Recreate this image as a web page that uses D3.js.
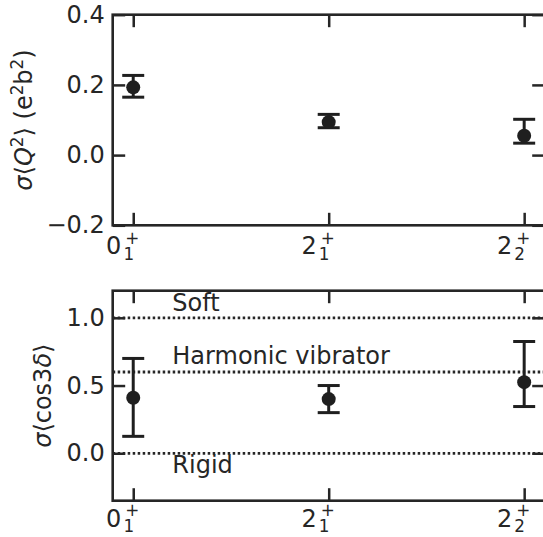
<!DOCTYPE html>
<html>
<head>
<meta charset="utf-8">
<script src="https://cdn.jsdelivr.net/npm/d3@7"></script>
<style>
  html, body { margin: 0; padding: 0; background: #fff; }
  svg { display: block; }
  text { font-family: "DejaVu Sans", sans-serif; fill: #262626; }
</style>
</head>
<body>
<div id="chart"></div>
<script>
// states on the x axis: J, index, parity  ->  J_index^parity
const stateSpin   = ["0", "2", "2"];
const stateIndex  = ["1", "1", "2"];
const stateParity = ["+", "+", "+"];

// sigma <Q^2> (e^2 b^2)
const q2Value = [0.193, 0.094, 0.055];
const q2Low   = [0.165, 0.078, 0.034];
const q2High  = [0.227, 0.116, 0.102];
const q2Ticks = [-0.2, 0.0, 0.2, 0.4];

// sigma <cos 3 delta>
const cosValue = [0.41, 0.40, 0.525];
const cosLow   = [0.125, 0.30, 0.345];
const cosHigh  = [0.70, 0.50, 0.825];
const cosTicks = [0.0, 0.5, 1.0];

// reference lines
const refValue = [1.0, 0.6, 0.0];
const refLabel = ["Soft", "Harmonic vibrator", "Rigid"];

const W = 543, H = 537;
const ink = "#262626";
const fs = 24;

const svg = d3.select("#chart").append("svg")
  .attr("width", W)
  .attr("height", H);

const x = d3.scaleLinear().domain([-0.105, 2.105]).range([112.7, 544.7]);
const xIdx = stateSpin.map((d, i) => i);

function panel(opts){
  const y = d3.scaleLinear().domain(opts.domain).range([opts.bottom, opts.top]);
  const g = svg.append("g");

  // reference lines sit under everything else
  if(opts.refs){
    opts.refs.forEach((r, i) => {
      g.append("line")
        .attr("x1", x.range()[0]).attr("x2", x.range()[1])
        .attr("y1", y(r)).attr("y2", y(r))
        .attr("stroke", ink)
        .attr("stroke-width", 2.8)
        .attr("stroke-dasharray", "2.5,2.5");
      g.append("text")
        .attr("x", x(0.2))
        .attr("y", y(r) + opts.refOffsets[i])
        .style("font-size", fs + "px")
        .text(opts.refLabels[i]);
    });
  }

  // axes: ticks inward on every side
  const left = d3.axisLeft(y).tickValues(opts.ticks).tickSizeInner(-12.5).tickSizeOuter(0)
    .tickPadding(8).tickFormat(d => d3.format(".1f")(d).replace("-", "\u2212"));
  const right = d3.axisRight(y).tickValues(opts.ticks).tickSizeInner(-12.5).tickSizeOuter(0).tickFormat("");
  const bottom = d3.axisBottom(x).tickValues(xIdx).tickSizeInner(-12.5).tickSizeOuter(0).tickFormat("");
  const top = d3.axisTop(x).tickValues(xIdx).tickSizeInner(-12.5).tickSizeOuter(0).tickFormat("");

  const gl = g.append("g").attr("transform", "translate(" + x.range()[0] + ",0)").call(left);
  g.append("g").attr("transform", "translate(" + x.range()[1] + ",0)").call(right);
  const gb = g.append("g").attr("transform", "translate(0," + opts.bottom + ")").call(bottom);
  g.append("g").attr("transform", "translate(0," + opts.top + ")").call(top);

  g.selectAll(".domain").remove();
  g.selectAll(".tick line").attr("stroke", ink).attr("stroke-width", 2.5);
  gl.selectAll(".tick text").attr("fill", ink).style("font-size", fs + "px")
    .style("font-family", "DejaVu Sans, sans-serif");

  // x tick labels J_i^+
  gb.selectAll(".tick").each(function(d){
    const t = d3.select(this).append("text")
      .attr("y", opts.xLabelY)
      .style("font-size", fs + "px");
    t.append("tspan").attr("x", -20).text(stateSpin[d]);
    t.append("tspan").attr("x", -5).attr("y", opts.xLabelY + 5.5)
      .style("font-size", "16.8px").text(stateIndex[d]);
    t.append("tspan").attr("x", -1.5).attr("y", opts.xLabelY - 10.3)
      .style("font-size", "16.8px").text(stateParity[d]);
  });

  // spines
  g.append("rect")
    .attr("x", x.range()[0]).attr("y", opts.top)
    .attr("width", x.range()[1] - x.range()[0])
    .attr("height", opts.bottom - opts.top)
    .attr("fill", "none")
    .attr("stroke", ink)
    .attr("stroke-width", 2.6);

  // error bars + markers
  const pts = g.append("g");
  xIdx.forEach(i => {
    const cx = x(i);
    pts.append("line")
      .attr("x1", cx).attr("x2", cx)
      .attr("y1", y(opts.low[i])).attr("y2", y(opts.high[i]))
      .attr("stroke", "#1f1f1f").attr("stroke-width", 3);
    [opts.low[i], opts.high[i]].forEach(v => {
      pts.append("line")
        .attr("x1", cx - 11).attr("x2", cx + 11)
        .attr("y1", y(v)).attr("y2", y(v))
        .attr("stroke", "#1f1f1f").attr("stroke-width", 3);
    });
    pts.append("circle")
      .attr("cx", cx).attr("cy", y(opts.value[i]))
      .attr("r", 7)
      .attr("fill", "#1f1f1f");
  });

  // y label
  const lab = g.append("text")
    .attr("transform", "translate(" + opts.labelX + "," + ((opts.top + opts.bottom) / 2) + ") rotate(-90)")
    .attr("text-anchor", "middle")
    .style("font-size", fs + "px");
  opts.label(lab);
}

panel({
  top: 14.7, bottom: 225.3, domain: [-0.2, 0.4], ticks: q2Ticks,
  value: q2Value, low: q2Low, high: q2High,
  xLabelY: 29, labelX: 32,
  label: t => {
    t.append("tspan").style("font-style", "italic").text("\u03c3");
    t.append("tspan").text("\u27e8");
    t.append("tspan").style("font-style", "italic").text("Q");
    t.append("tspan").attr("dy", -9).style("font-size", "16.8px").text("2");
    t.append("tspan").attr("dy", 9).text("\u27e9 (e");
    t.append("tspan").attr("dy", -9).style("font-size", "16.8px").text("2");
    t.append("tspan").attr("dy", 9).text("b");
    t.append("tspan").attr("dy", -9).style("font-size", "16.8px").text("2");
    t.append("tspan").attr("dy", 9).text(")");
  }
});

panel({
  top: 290.7, bottom: 500.7, domain: [-0.35, 1.2], ticks: cosTicks,
  value: cosValue, low: cosLow, high: cosHigh,
  refs: refValue, refLabels: refLabel, refOffsets: [-7, -8, 20],
  xLabelY: 26, labelX: 51,
  label: t => {
    t.append("tspan").style("font-style", "italic").text("\u03c3");
    t.append("tspan").text("\u27e8cos3");
    t.append("tspan").style("font-style", "italic").text("\u03b4");
    t.append("tspan").text("\u27e9");
  }
});
</script>
</body>
</html>
